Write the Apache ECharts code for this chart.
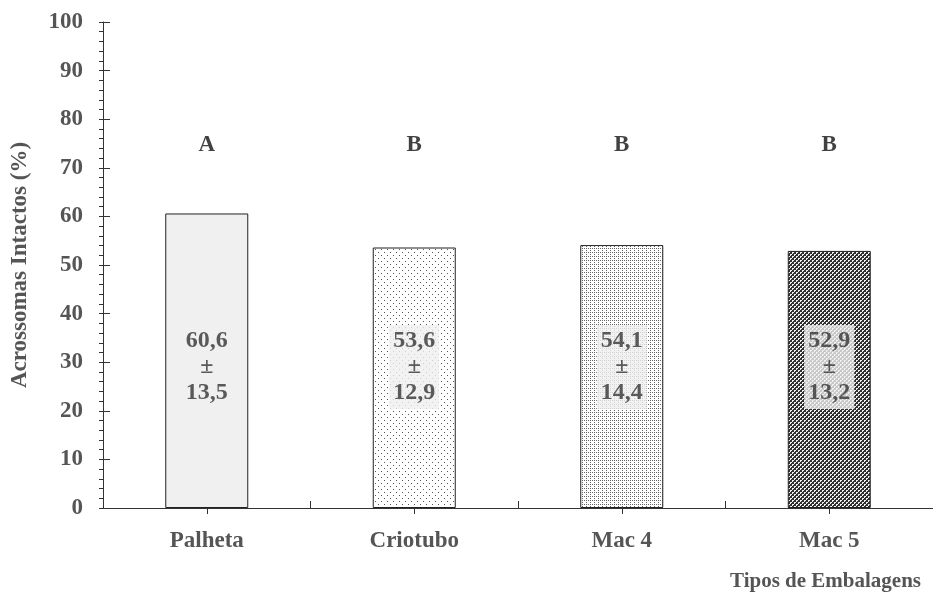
<!DOCTYPE html>
<html>
<head>
<meta charset="utf-8">
<script src="https://cdn.jsdelivr.net/npm/echarts@6/dist/echarts.min.js"></script>
<style>html,body{margin:0;padding:0;background:#fff}#c{width:933px;height:597px}</style>
</head>
<body>
<div id="c"></div>
<script>
var categories = ['Palheta', 'Criotubo', 'Mac 4', 'Mac 5'];
var means = [60.6, 53.6, 54.1, 52.9];
var sds = ['13,5', '12,9', '14,4', '13,2'];
var meanLabels = ['60,6', '53,6', '54,1', '52,9'];
var groups = ['A', 'B', 'B', 'B'];
var groupY = 74.7;
var labelY = 29;
var yTicks = [0, 10, 20, 30, 40, 50, 60, 70, 80, 90, 100];

function makePattern(size, bg, fg, pts) {
  var c = document.createElement('canvas');
  c.width = size; c.height = size;
  var ctx = c.getContext('2d');
  ctx.fillStyle = bg; ctx.fillRect(0, 0, size, size);
  ctx.fillStyle = fg;
  pts.forEach(function (p) { ctx.fillRect(p[0], p[1], 1, 1); });
  return c;
}
var fills = [
  '#f0f0f0',
  {image: makePattern(6, '#ffffff', '#555555', [[0,0],[3,3]]), repeat: 'repeat'},
  {image: makePattern(4, '#ffffff', '#666666', [[0,0],[2,2],[2,0]]), repeat: 'repeat'},
  {image: makePattern(4, '#303030', '#f2f2f2', [[0,0],[1,0],[0,1],[2,2],[3,2],[2,3]]), repeat: 'repeat'}
];
var labelBg = ['transparent', '#efefef', '#efefef', '#efefef'];

var FONT = '"Liberation Serif", "Times New Roman", serif';
var chart = echarts.init(document.getElementById('c'));
chart.setOption({
  animation: false,
  grid: {left: 103, top: 22, width: 840, height: 486},
  xAxis: [{
    type: 'category', data: categories,
    axisLine: {lineStyle: {color: '#333', width: 1}},
    axisTick: {show: true, alignWithLabel: true, length: 6, lineStyle: {color: '#333'}},
    axisLabel: {fontFamily: FONT, fontWeight: 'bold', fontSize: 23, color: '#555', margin: 22}
  }, {
    type: 'category', data: categories, position: 'bottom',
    axisLine: {show: false},
    axisTick: {show: true, inside: true, length: 7, lineStyle: {color: '#333'}},
    axisLabel: {show: false}
  }],
  yAxis: [{
    type: 'value', min: 0, max: 100, interval: 10,
    name: 'Acrossomas Intactos (%)', nameLocation: 'middle', nameGap: 71,
    nameTextStyle: {fontFamily: FONT, fontWeight: 'bold', fontSize: 23, color: '#555'},
    axisLine: {show: true, lineStyle: {color: '#333'}},
    axisTick: {show: true, length: 4, lineStyle: {color: '#333'}},
    minorTick: {show: true, splitNumber: 5, length: 4, lineStyle: {color: '#333'}},
    splitLine: {show: false},
    axisLabel: {fontFamily: FONT, fontWeight: 'bold', fontSize: 23, color: '#555', margin: 20}
  }, {
    type: 'value', min: 0, max: 100, interval: 10, position: 'left',
    axisLine: {show: false},
    axisTick: {show: true, inside: true, length: 7, lineStyle: {color: '#333'}},
    splitLine: {show: false},
    axisLabel: {show: false}
  }],
  series: [{
    type: 'bar', barWidth: '40%',
    data: means.map(function (v, i) {
      return {value: v, itemStyle: {color: fills[i], borderColor: '#222', borderWidth: 1}};
    }),
    silent: true
  }, {
    type: 'scatter', symbolSize: 0,
    data: categories.map(function (c, i) {
      return {value: [c, labelY], label: {backgroundColor: labelBg[i]}};
    }),
    label: {
      show: true, position: 'inside',
      formatter: function (p) { return meanLabels[p.dataIndex] + '\n±\n' + sds[p.dataIndex]; },
      fontFamily: FONT, fontWeight: 'bold', fontSize: 24, color: '#333', lineHeight: 26,
      padding: [4, 4, 2, 4], align: 'center', verticalAlign: 'middle'
    },
    silent: true
  }, {
    type: 'scatter', symbolSize: 0,
    data: categories.map(function (c) { return [c, groupY]; }),
    label: {
      show: true, position: 'inside',
      formatter: function (p) { return groups[p.dataIndex]; },
      fontFamily: FONT, fontWeight: 'bold', fontSize: 23, color: '#111'
    },
    silent: true
  }],
  graphic: [{
    type: 'text', left: 730, top: 571,
    style: {text: 'Tipos de Embalagens', font: 'bold 21px ' + FONT, fill: '#555'}
  }]
});
</script>
</body>
</html>
